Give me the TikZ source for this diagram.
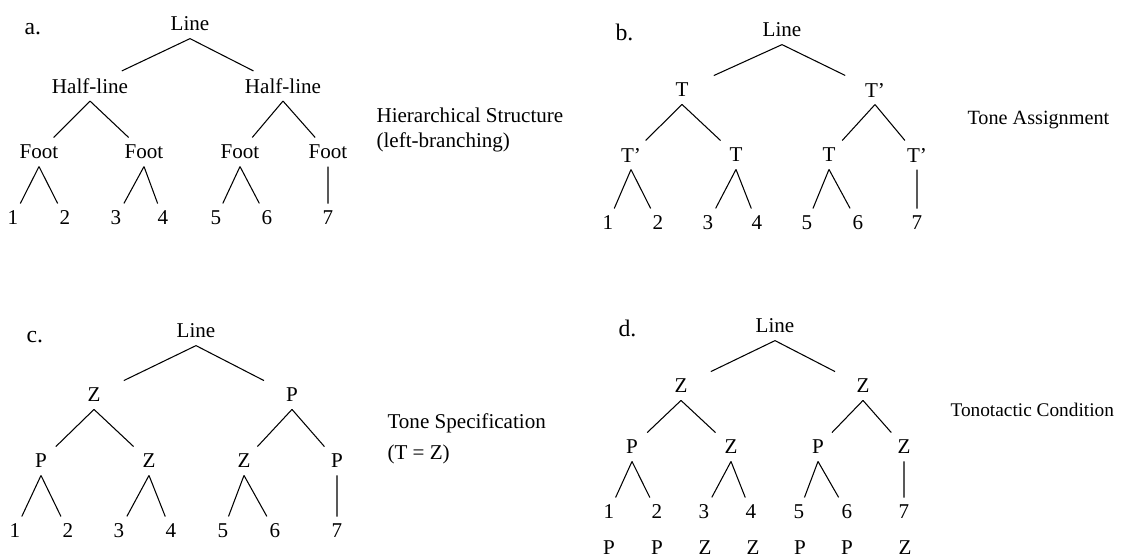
\documentclass[tikz,border=0pt]{standalone}
\usepackage{fontspec}
\setmainfont{Liberation Serif}
\begin{document}
\begin{tikzpicture}[x=0.02cm,y=-0.02cm,line width=0.6pt,font=\fontsize{12}{14.5}\selectfont,
  tn/.style={minimum width=2cm,inner xsep=0pt,inner ysep=0.14cm},
  lab/.style={anchor=base west,inner sep=0pt},
  pan/.style={lab,font=\fontsize{13.5}{16}\selectfont}]
\useasboundingbox (0,0) rectangle (1123,558);
% a. structure
\node[pan] (ta) at (24,34) {a.};
\node[tn] (La) at (190,24) {Line};
\node[tn] (Ha1) at (90,86) {Half-line};\node[tn] (Ha2) at (283,86) {Half-line};
\foreach \x [count=\i] in {39,144,240,328} \node[tn] (Fa\i) at (\x,152) {Foot};
\foreach \x [count=\i] in {13,65,116,163,216,267,328} \node[tn] (na\i) at (\x,218) {\i};
\node[lab] (sa1) at (376,122) {Hierarchical Structure};
\node[lab] (sa2) at (376,147) {(left-branching)};
% b. tones
\node[pan] (tb) at (615,40) {b.};
\node[tn] (Lb) at (782,30) {Line};
\node[tn] (Hb1) at (682,90) {T};\node[tn] (Hb2) at (875,90) {T’};
\foreach \x/\t [count=\i] in {631/T’,736/T,829/T,917/T’} \node[tn] (Fb\i) at (\x,155) {\t};
\foreach \x [count=\i] in {608,658,708,757,807,858,917} \node[tn] (nb\i) at (\x,223) {\i};
\node[lab,font=\fontsize{11.5}{14}\selectfont] (sb1) at (967,124) {Tone Assignment};
% c. specification
\node[pan] (tc) at (26,342) {c.};
\node[tn] (Lc) at (196,331) {Line};
\node[tn] (Hc1) at (94,395) {Z};\node[tn] (Hc2) at (292,395) {P};
\foreach \x/\t [count=\i] in {41/P,149/Z,244/Z,337/P} \node[tn] (Fc\i) at (\x,461) {\t};
\foreach \x [count=\i] in {15,68,119,171,223,275,337} \node[tn] (nc\i) at (\x,531) {\i};
\node[lab] (sc1) at (387,428) {Tone Specification};
\node[lab] (sc2) at (387,459) {(T = Z)};
% d. tonotactics
\node[pan] (td) at (618,336) {d.};
\node[tn] (Ld) at (775,326) {Line};
\node[tn] (Hd1) at (681,386) {Z};\node[tn] (Hd2) at (863,386) {Z};
\foreach \x/\t [count=\i] in {632/P,731/Z,818/P,904/Z} \node[tn] (Fd\i) at (\x,447) {\t};
\foreach \x [count=\i] in {609,657,704,751,799,847,904} \node[tn] (nd\i) at (\x,512) {\i};
\foreach \x/\t [count=\i] in {609/P,657/P,705/Z,753/Z,800/P,847/P,905/Z} \node[tn] (pd\i) at (\x,548) {\t};
\node[lab,font=\fontsize{11}{13.5}\selectfont] (sd1) at (950,416) {Tonotactic Condition};
% branches
\foreach \q in {a,b,c,d}
  \draw (L\q.south)--(H\q1) (L\q.south)--(H\q2) (H\q1.south)--(F\q1) (H\q1.south)--(F\q2)
        (H\q2.south)--(F\q3) (H\q2.south)--(F\q4) (F\q1.south)--(n\q1) (F\q1.south)--(n\q2)
        (F\q2.south)--(n\q3) (F\q2.south)--(n\q4) (F\q3.south)--(n\q5) (F\q3.south)--(n\q6)
        (F\q4.south)--(n\q7);
\end{tikzpicture}
\end{document}
